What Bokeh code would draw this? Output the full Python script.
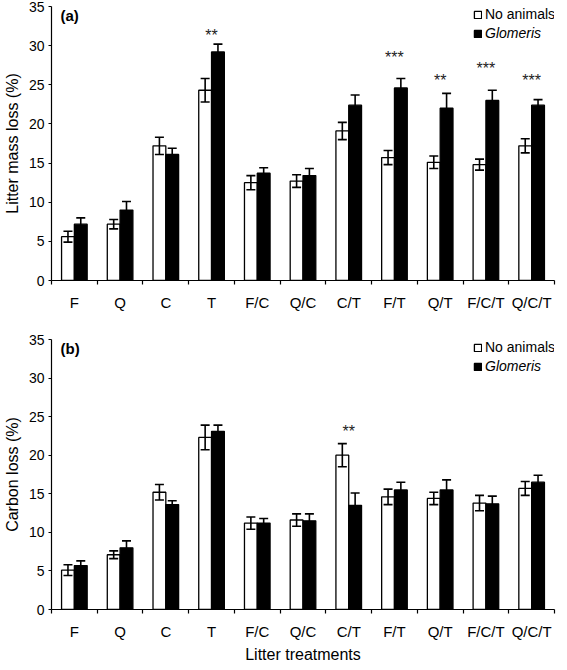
from bokeh.plotting import figure
from bokeh.models import (Range1d, FixedTicker, ColumnDataSource, Whisker, TeeHead,
                          Legend, LegendItem, Label)
from bokeh.layouts import column
from bokeh.embed import file_html
from bokeh.resources import INLINE
from bokeh.core.properties import value

# ---------------- data ----------------
categories = ["F", "Q", "C", "T", "F/C", "Q/C", "C/T", "F/T", "Q/T", "F/C/T", "Q/C/T"]
series_names = ["No animals", "Glomeris"]

mass_none = [5.6, 7.2, 17.2, 24.3, 12.5, 12.7, 19.1, 15.7, 15.1, 14.8, 17.2]
mass_none_err = [0.7, 0.6, 1.1, 1.5, 0.9, 0.8, 1.1, 0.9, 0.8, 0.7, 0.9]
mass_glom = [7.2, 9.0, 16.1, 29.2, 13.7, 13.4, 22.4, 24.6, 22.0, 23.0, 22.4]
mass_glom_err = [0.8, 1.1, 0.8, 1.0, 0.7, 0.9, 1.3, 1.2, 1.9, 1.3, 0.7]
mass_star_cats = ["T", "F/T", "Q/T", "F/C/T", "Q/C/T"]
mass_star_text = ["**", "***", "**", "***", "***"]
mass_star_y = [31.8, 29.0, 26.1, 27.6, 26.1]

carbon_none = [5.1, 7.1, 15.2, 22.3, 11.2, 11.6, 20.0, 14.6, 14.4, 13.8, 15.7]
carbon_none_err = [0.7, 0.5, 1.0, 1.6, 0.8, 0.8, 1.5, 1.0, 0.8, 1.0, 0.9]
carbon_glom = [5.7, 8.0, 13.6, 23.1, 11.2, 11.5, 13.5, 15.5, 15.5, 13.7, 16.5]
carbon_glom_err = [0.6, 0.9, 0.5, 0.8, 0.6, 0.9, 1.6, 1.0, 1.3, 1.0, 0.9]
carbon_star_cats = ["C/T"]
carbon_star_text = ["**"]
carbon_star_y = [23.6]

y_ticks = [0, 5, 10, 15, 20, 25, 30, 35]

FONT = "Liberation Sans"
BAR_W = 0.28
FRAME_W = 503


def make_panel(none_vals, none_err, glom_vals, glom_err, star_cats, star_text, star_y,
               panel_label, y_title, x_title, frame_h, top, bottom):
    centers = list(range(1, len(categories) + 1))
    bounds = [c - 0.5 for c in centers] + [centers[-1] + 0.5]

    p = figure(frame_width=FRAME_W, frame_height=frame_h, output_backend="svg",
               toolbar_location=None,
               x_range=Range1d(0.5, len(categories) + 0.5), y_range=Range1d(0, 35),
               min_border_left=44, min_border_right=4, min_border_top=top,
               min_border_bottom=bottom)
    p.outline_line_color = None
    p.xgrid.visible = False
    p.ygrid.visible = False
    p.background_fill_color = "white"
    p.border_fill_color = "white"

    src_n = ColumnDataSource(dict(x=[c - BAR_W / 2 for c in centers], top=none_vals,
                                  upper=[v + e for v, e in zip(none_vals, none_err)],
                                  lower=[v - e for v, e in zip(none_vals, none_err)]))
    src_g = ColumnDataSource(dict(x=[c + BAR_W / 2 for c in centers], top=glom_vals,
                                  upper=[v + e for v, e in zip(glom_vals, glom_err)],
                                  lower=[v - e for v, e in zip(glom_vals, glom_err)]))

    r_n = p.vbar(x="x", top="top", bottom=0, width=BAR_W, source=src_n,
                 fill_color="white", line_color="black", line_width=1.3)
    r_g = p.vbar(x="x", top="top", bottom=0, width=BAR_W, source=src_g,
                 fill_color="black", line_color="black", line_width=1.3)

    for src in (src_n, src_g):
        w = Whisker(source=src, base="x", upper="upper", lower="lower",
                    dimension="height", line_width=1.6, line_color="black", level="overlay",
                    upper_head=TeeHead(size=9, line_width=1.6, line_color="black"),
                    lower_head=TeeHead(size=9, line_width=1.6, line_color="black"))
        p.add_layout(w)

    sx = [categories.index(c) + 1 for c in star_cats]
    p.text(x=sx, y=star_y, text=star_text, text_align="center", text_baseline="middle",
           text_font=value(FONT), text_font_size="16px", text_color="#222222", y_offset=4)

    # axes
    xa = p.xaxis[0]
    xa.ticker = FixedTicker(ticks=centers, minor_ticks=bounds)
    xa.major_label_overrides = {c: cat for c, cat in zip(centers, categories)}
    xa.major_tick_out = 0
    xa.major_tick_in = 0
    xa.minor_tick_out = 4
    xa.minor_tick_in = 0
    xa.minor_tick_line_color = "black"
    xa.minor_tick_line_width = 1.2
    xa.axis_line_color = "black"
    xa.axis_line_width = 1.2
    xa.major_label_standoff = 9
    xa.major_label_text_font = FONT
    xa.major_label_text_font_size = "15px"
    xa.major_label_text_color = "black"
    if x_title:
        xa.axis_label = x_title
        xa.axis_label_text_font = FONT
        xa.axis_label_text_font_size = "16px"
        xa.axis_label_text_font_style = "normal"
        xa.axis_label_text_color = "black"
        xa.axis_label_standoff = 3

    ya = p.yaxis[0]
    ya.ticker = FixedTicker(ticks=y_ticks)
    ya.major_tick_out = 3
    ya.major_tick_in = 0
    ya.minor_tick_out = 0
    ya.minor_tick_in = 0
    ya.axis_line_color = "black"
    ya.axis_line_width = 1.2
    ya.major_tick_line_width = 1.2
    ya.major_label_standoff = 4
    ya.major_label_text_font = FONT
    ya.major_label_text_font_size = "14px"
    ya.major_label_text_color = "black"
    ya.axis_label = y_title
    ya.axis_label_text_font = FONT
    ya.axis_label_text_font_size = "16px"
    ya.axis_label_text_font_style = "normal"
    ya.axis_label_text_color = "black"
    ya.axis_label_standoff = 5

    p.add_layout(Label(x=9, y=frame_h - 9, x_units="screen", y_units="screen",
                       text=panel_label, text_font=FONT, text_font_size="15px",
                       text_font_style="bold", text_baseline="middle", text_color="black"))

    for i, (r, name) in enumerate(((r_n, series_names[0]), (r_g, series_names[1]))):
        leg = Legend(items=[LegendItem(label=name, renderers=[r])],
                     location=(FRAME_W - 81, frame_h - 16 - 19 * i),
                     glyph_width=9, glyph_height=9, label_height=16, label_standoff=3,
                     padding=0, margin=0, spacing=0,
                     border_line_alpha=0, background_fill_alpha=0,
                     label_text_font=FONT, label_text_font_size="14px",
                     label_text_color="black", label_text_baseline="middle",
                     label_text_font_style="italic" if i == 1 else "normal")
        p.add_layout(leg)
    return p


pa = make_panel(mass_none, mass_none_err, mass_glom, mass_glom_err,
                mass_star_cats, mass_star_text, mass_star_y,
                "(a)", "Litter mass loss (%)", None, 274, 6, 40)
pb = make_panel(carbon_none, carbon_none_err, carbon_glom, carbon_glom_err,
                carbon_star_cats, carbon_star_text, carbon_star_y,
                "(b)", "Carbon loss (%)", "Litter treatments", 270, 19, 50)

layout = column(pa, pb, spacing=0)
open("out.html", "w").write(file_html(layout, INLINE))
